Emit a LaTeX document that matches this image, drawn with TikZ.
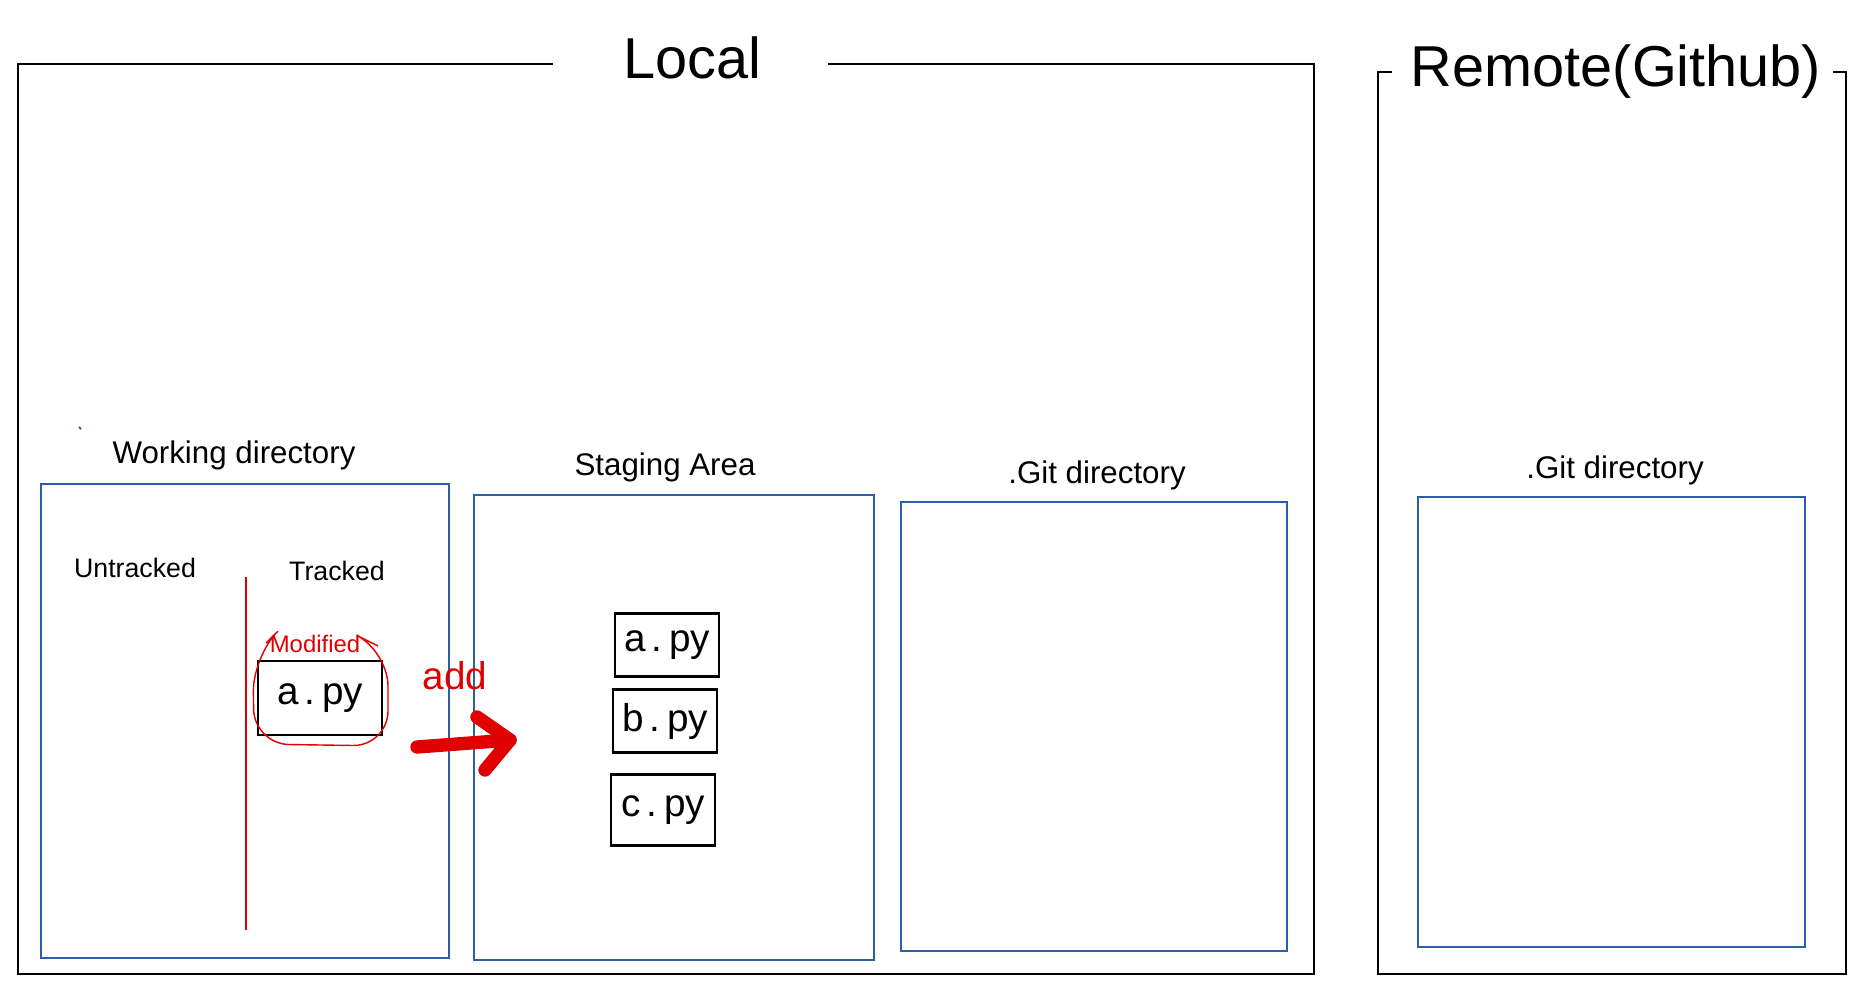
\documentclass[tikz,border=0pt]{standalone}
\usepackage{fontspec}
\setmainfont{Liberation Sans}
\usetikzlibrary{positioning}

\definecolor{areablue}{HTML}{2B5FA8}
\definecolor{penred}{HTML}{E00000}

\tikzset{
	frame/.style={draw=black, line width=0.7pt},
	title/.style={anchor=base, inner sep=0pt, font=\fontsize{16.4}{18}\selectfont},
	area/.style={draw=areablue, line width=0.6pt, anchor=north west, inner sep=0pt},
	areaname/.style={anchor=base, inner sep=0pt, font=\fontsize{8.9}{10}\selectfont},
	sidename/.style={anchor=base, inner sep=0pt, font=\fontsize{7.6}{9}\selectfont},
	filebox/.style={draw, line width=0.7pt, minimum width=1.04cm, minimum height=6.3mm, inner sep=0pt, font=\fontsize{11}{11}\selectfont},
	redpen/.style={draw=penred, line width=0.4pt},
	redtext/.style={text=penred, inner sep=0pt},
	addarrow/.style={penred, line width=3.8pt, line cap=round, line join=round},
}

\begin{document}
\begin{tikzpicture}[x=0.01cm, y=-0.01cm]
	\useasboundingbox (0,0) rectangle (1870,1000);
	
	% local and remote frames
	\draw[frame] (553,64) -- (18,64) -- (18,974) -- (1314,974) -- (1314,64) -- (828,64);
	\node[title] (local) at (692,78) {Local};
	\draw[frame] (1392,72) -- (1378,72) -- (1378,974) -- (1846,974) -- (1846,72) -- (1833,72);
	\node[title] (remote) at (1616,87) {Remote(Github)};
	
	% areas
	\node[area, minimum width=4.08cm, minimum height=4.74cm] (work) at (40,483) {};
	\node[area, minimum width=4.00cm, minimum height=4.65cm] (stage) at (473,494) {};
	\node[area, minimum width=3.86cm, minimum height=4.49cm] (gitlocal) at (900,501) {};
	\node[area, minimum width=3.87cm, minimum height=4.50cm] (gitremote) at (1417,496) {};
	
	\node[areaname] (workname) at (234,463) {Working directory};
	\node[areaname] (stagename) at (665,475) {Staging Area};
	\node[areaname] (gitlocalname) at (1097,483) {.Git directory};
	\node[areaname] (gitremotename) at (1615,478) {.Git directory};
	\draw[areablue, line width=0.6pt] (79,427) -- (81,429);
	
	% working directory
	\node[sidename] (untracked) at (135,577) {Untracked};
	\node[sidename] (tracked) at (337,580) {Tracked};
	\draw[redpen] (246,577) -- (246,930);
	
	\node[filebox, minimum width=1.24cm, minimum height=7.4mm] (wfile) at (320,698) {a\,.\,py};
	\node[redtext, font=\fontsize{6.8}{8}\selectfont, above=0.7mm of wfile.north, xshift=-0.5mm, anchor=base] (modified) {Modified};
	\draw[redpen, rounded corners=10] (266,643) -- (253,656) -- (254,744) -- (388,746) -- (388,651) -- (378,646);
	
	% staged files
	\foreach \f/\x/\y/\h in {a/667/645/6.3mm, b/665/721/6.3mm, c/663/810/7.1mm}
	\node[filebox, minimum height=\h] (stage-\f) at (\x,\y) {\f\,.\,py};
	
	% git add
	\coordinate (addfrom) at (417,747);
	\coordinate (addto) at (510,740);
	\draw[addarrow] (addfrom) -- (addto);
	\draw[addarrow] (addto) ++(-33,-23) -- (addto) -- ++(-25,30);
	\node[redtext, font=\fontsize{11}{12}\selectfont] (addname) at (455,676) {add};
\end{tikzpicture}
\end{document}
